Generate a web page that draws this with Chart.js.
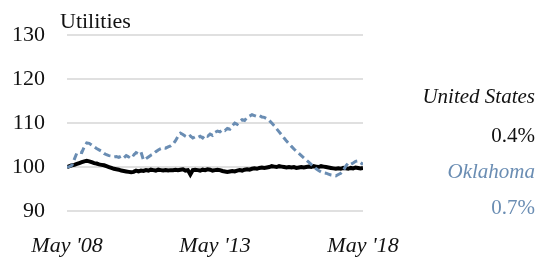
<!DOCTYPE html>
<html>
<head>
<meta charset="utf-8">
<script src="https://cdn.jsdelivr.net/npm/chart.js@4"></script>
<style>
  html, body { margin: 0; padding: 0; background: #fff; }
  #wrap { width: 551px; height: 259px; }
</style>
</head>
<body>
<div id="wrap"><canvas id="utilChart" width="551" height="259"></canvas></div>
<script>
// monthly index, May 2008 = 100 (months 0..120)
const months = [];
for (let m = 0; m <= 120; m++) months.push(m);

const xTickLabels = { 0: "May '08", 60: "May '13", 120: "May '18" };

const usValues = [
  100.0, 100.2, 100.4, 100.5, 100.7, 100.9, 101.1, 101.3, 101.4, 101.3,
  101.1, 100.9, 100.8, 100.6, 100.5, 100.4, 100.2, 100.0, 99.8, 99.6,
  99.5, 99.4, 99.2, 99.1, 99.0, 98.9, 98.8, 98.9, 99.2, 99.0,
  99.2, 99.1, 99.3, 99.2, 99.4, 99.3, 99.2, 99.4, 99.3, 99.2,
  99.3, 99.2, 99.3, 99.3, 99.4, 99.3, 99.4, 99.5, 99.2, 99.3,
  98.3, 99.3, 99.4, 99.3, 99.2, 99.4, 99.3, 99.5, 99.4, 99.2,
  99.3, 99.4, 99.3, 99.1, 99.0, 98.9, 99.0, 99.1, 99.0, 99.2,
  99.3, 99.2, 99.4, 99.5, 99.4, 99.6, 99.7, 99.6, 99.8, 99.9,
  99.8, 99.9, 100.0, 100.2, 100.1, 100.0, 100.2, 100.1, 100.0, 99.9,
  100.0, 99.9, 100.0, 99.8, 99.9, 100.0, 99.9, 100.0, 100.1, 100.0,
  100.2, 100.1, 100.0, 100.2, 100.1, 100.0, 99.9, 99.8, 99.7, 99.6,
  99.7, 99.6, 99.8, 99.7, 99.6, 99.8, 99.7, 99.9, 99.8, 99.7,
  99.8
];

const okValues = [
  100.0, 100.1, 100.4, 101.8, 103.2, 103.4, 103.3, 104.6, 105.5, 105.4,
  105.0, 104.6, 104.2, 103.9, 103.6, 103.1, 102.8, 102.6, 102.5, 102.3,
  102.4, 102.2, 102.5, 102.1, 102.6, 102.3, 103.0, 102.7, 103.3, 103.0,
  103.4, 101.6, 101.9, 102.3, 102.7, 103.0, 103.5, 103.9, 104.2, 104.4,
  104.3, 104.6, 104.8, 105.2, 106.0, 107.0, 107.7, 107.4, 107.0, 106.7,
  107.1, 106.6, 106.9, 106.7, 107.0, 106.6, 107.3, 107.0, 107.5, 107.2,
  107.9, 108.2, 108.0, 108.5, 108.3, 108.8, 108.6, 109.4, 110.0, 109.7,
  110.4, 110.8, 110.6, 111.3, 111.6, 111.9, 111.7, 111.5, 111.7, 111.4,
  111.3, 111.0, 110.6, 110.0, 109.4, 108.7, 108.0, 107.3, 106.6, 105.9,
  105.3, 104.7, 104.1, 103.6, 103.1, 102.6, 102.1, 101.6, 101.1, 100.6,
  100.1, 99.6, 99.2, 98.9, 98.7, 98.6, 98.4, 98.2, 98.1, 98.0,
  98.3, 98.6, 99.2, 100.2, 100.9, 100.6, 100.9, 101.3, 101.4, 101.0,
  100.6
];

const yTicks = [90, 100, 110, 120, 130];

const usColor = '#000000';
const okColor = '#6a8db3';
const fontFamily = '"Liberation Serif", "DejaVu Serif", serif';

const sideText = {
  id: 'sideText',
  afterDraw(chart) {
    const c = chart.ctx;
    c.save();
    c.textBaseline = 'alphabetic';
    c.fillStyle = '#111';
    c.font = '22px ' + fontFamily;
    c.textAlign = 'left';
    c.fillText('Utilities', 60, 28);

    c.textAlign = 'right';
    c.font = 'italic 21px ' + fontFamily;
    c.fillStyle = '#111';
    c.fillText('United States', 535, 103);
    c.font = '21px ' + fontFamily;
    c.fillText('0.4%', 535, 142);
    c.fillStyle = okColor;
    c.font = 'italic 21px ' + fontFamily;
    c.fillText('Oklahoma', 535, 178);
    c.font = '21px ' + fontFamily;
    c.fillText('0.7%', 535, 214);
    c.restore();
  }
};

new Chart(document.getElementById('utilChart').getContext('2d'), {
  type: 'line',
  plugins: [sideText],
  data: {
    labels: months,
    datasets: [
      {
        label: 'Oklahoma',
        data: okValues.map((v, i) => ({ x: months[i], y: v })),
        borderColor: okColor,
        borderWidth: 3,
        borderDash: [7, 4],
        pointRadius: 0,
        tension: 0,
        fill: false
      },
      {
        label: 'United States',
        data: usValues.map((v, i) => ({ x: months[i], y: v })),
        borderColor: usColor,
        borderWidth: 4,
        pointRadius: 0,
        tension: 0,
        fill: false
      }
    ]
  },
  options: {
    responsive: false,
    animation: false,
    layout: { padding: { top: 35, right: 188, bottom: 0, left: 0 } },
    plugins: {
      legend: { display: false },
      tooltip: { enabled: false }
    },
    scales: {
      x: {
        type: 'linear',
        min: 0,
        max: 120,
        afterBuildTicks: scale => { scale.ticks = [0, 60, 120].map(v => ({ value: v })); },
        afterFit: scale => { scale.height = 48; },
        grid: { display: false },
        border: { display: false },
        ticks: {
          autoSkip: false,
          maxRotation: 0,
          padding: 14,
          color: '#111',
          font: { family: fontFamily, size: 22, style: 'italic' },
          callback: v => xTickLabels[v] || ''
        }
      },
      y: {
        min: 90,
        max: 130,
        afterBuildTicks: scale => { scale.ticks = yTicks.map(v => ({ value: v })); },
        afterFit: scale => { scale.width = 67; },
        grid: { color: '#e0e0e0', lineWidth: 2, drawTicks: false },
        border: { display: false },
        ticks: {
          padding: 22,
          color: '#111',
          font: { family: fontFamily, size: 22 }
        }
      }
    }
  }
});
</script>
</body>
</html>
